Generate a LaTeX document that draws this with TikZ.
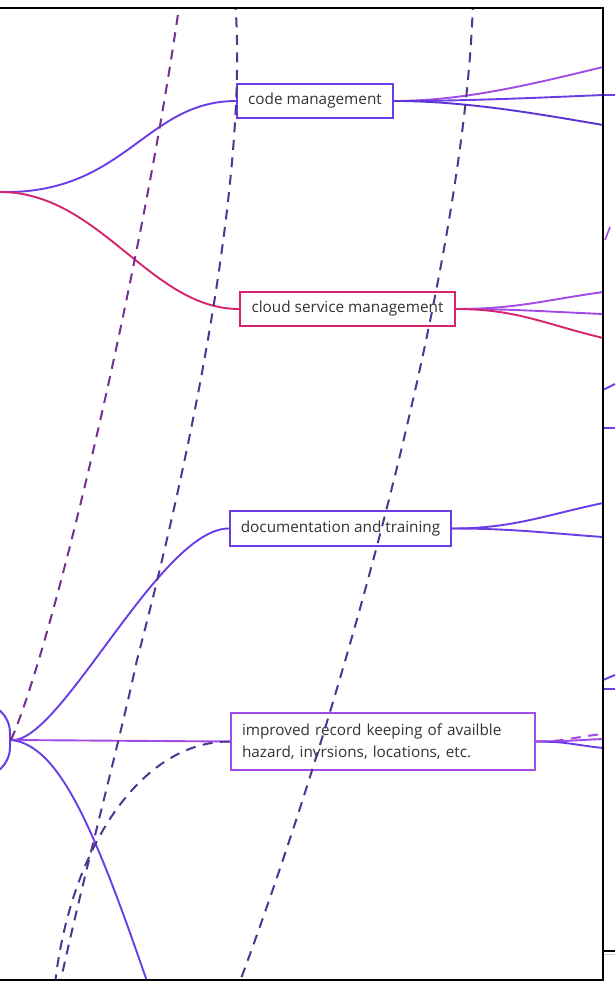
\documentclass[tikz,border=0pt]{standalone}
\usepackage{fontspec}
\setmainfont{Open Sans}
\usepackage{tikz}
\usepackage{xcolor}

\definecolor{violetline}{HTML}{6A3DE8}
\definecolor{violetdark}{HTML}{5B34D6}
\definecolor{lilacline}{HTML}{A34BE6}
\definecolor{pinkline}{HTML}{D6246E}
\definecolor{dashline}{HTML}{4E3590}
\definecolor{dashplum}{HTML}{74308E}
\definecolor{textgray}{HTML}{333333}

\tikzset{
  topic/.style={draw, rectangle, line width=2pt, fill=white, text=textgray,
    font=\fontsize{15.3}{22}\selectfont, inner sep=0pt},
  branch/.style={line width=1.9pt},
  link/.style={line width=2pt, dash pattern=on 10pt off 7.5pt},
}

\begin{document}
\begin{tikzpicture}[x=1pt,y=-1pt]
\useasboundingbox (0,0) rectangle (615,984);

\begin{scope}
\clip (0,8) rectangle (603,980);
\coordinate (root) at (0,192);
\node[draw=violetline, line width=2pt, fill=white, rounded corners=30pt,
  minimum width=120pt, minimum height=74pt] (base) at (-50,740) {};

\node[topic, draw=violetline, minimum width=156pt, minimum height=34pt] (code) at (315,101) {code management};
\node[topic, draw=pinkline, minimum width=215pt, minimum height=34pt] (cloud) at (347.5,309) {cloud service management};
\node[topic, draw=violetline, minimum width=221pt, minimum height=35pt] (docs) at (340.5,528.5) {documentation and training};
\node[topic, draw=lilacline, text width=282pt, align=left, inner xsep=11pt, minimum height=57pt] (record) at (383,741.5)
  {improved record keeping of availble\\hazard, invrsions, locations, etc.};

\draw[branch, violetline] (root) .. controls (125,195) and (145,101) .. (code.west);
\draw[branch, pinkline] (root) .. controls (100,192) and (150,309) .. (cloud.west);
\draw[branch, violetline] (base.east) .. controls (60,745) and (160,528) .. (docs.west);
\draw[branch, lilacline] (base.east) -- (record.west);
\coordinate (downend) at (150,990);
\draw[branch, violetline] (base.east) .. controls (60,745) and (95,830) .. (downend);

\foreach \y/\c in {67/lilacline, 95/violetline, 125/violetdark}
  \draw[branch, \c] (code.east) .. controls +(70,0) and +(-70,{0.5*(101-\y)}) .. (603,\y);
\foreach \y/\c in {292/lilacline, 314/lilacline, 338/pinkline}
  \draw[branch, \c] (cloud.east) .. controls +(60,0) and +(-60,{0.5*(309-\y)}) .. (603,\y);
\foreach \y/\c in {503/violetline, 537/violetline}
  \draw[branch, \c] (docs.east) .. controls +(60,0) and +(-60,{0.5*(528.5-\y)}) .. (603,\y);
\foreach \y/\c in {739/lilacline, 748/violetline}
  \draw[branch, \c] (record.east) .. controls +(30,0) and +(-30,{0.5*(741.5-\y)}) .. (603,\y);
\draw[link, lilacline] (record.east) .. controls +(30,0) and +(-30,3) .. (603,734);

\coordinate (topA) at (180,0);
\coordinate (topB) at (235,0);
\coordinate (botB) at (60,984);
\coordinate (botC) at (55,984);
\coordinate (topD) at (473,0);
\coordinate (botD) at (239,984);
\draw[link, dashplum] (base.east) .. controls (55,640) and (145,250) .. (topA);
\draw[link, dashline] (topB) .. controls (248,160) and (200,420) .. (137,660)
  .. controls (120,740) and (80,890) .. (botB);
\draw[link, dashline] (record.west) .. controls (140,741) and (70,850) .. (botC);
\draw[link, dashline] (topD) .. controls (466,260) and (345,700) .. (botD);
\end{scope}

\draw[branch, violetline] (603,95) -- (615,95);
\draw[line width=1.6pt, lilacline] (605,240) -- (610,227);
\draw[branch, violetline] (603,390) -- (615,384);
\draw[branch, violetline] (603,428) -- (615,428);
\draw[branch, violetline] (603,680) -- (615,675);
\draw[branch, violetline] (603,689) -- (615,689);
\draw[line width=1.2pt] (603,951) -- (615,951);
\draw[gray!40, line width=0.6pt] (603,954) -- (615,954);

\draw[line width=2.5pt] (0,8) -- (603,8) -- (603,980) -- (0,980);
\end{tikzpicture}
\end{document}
